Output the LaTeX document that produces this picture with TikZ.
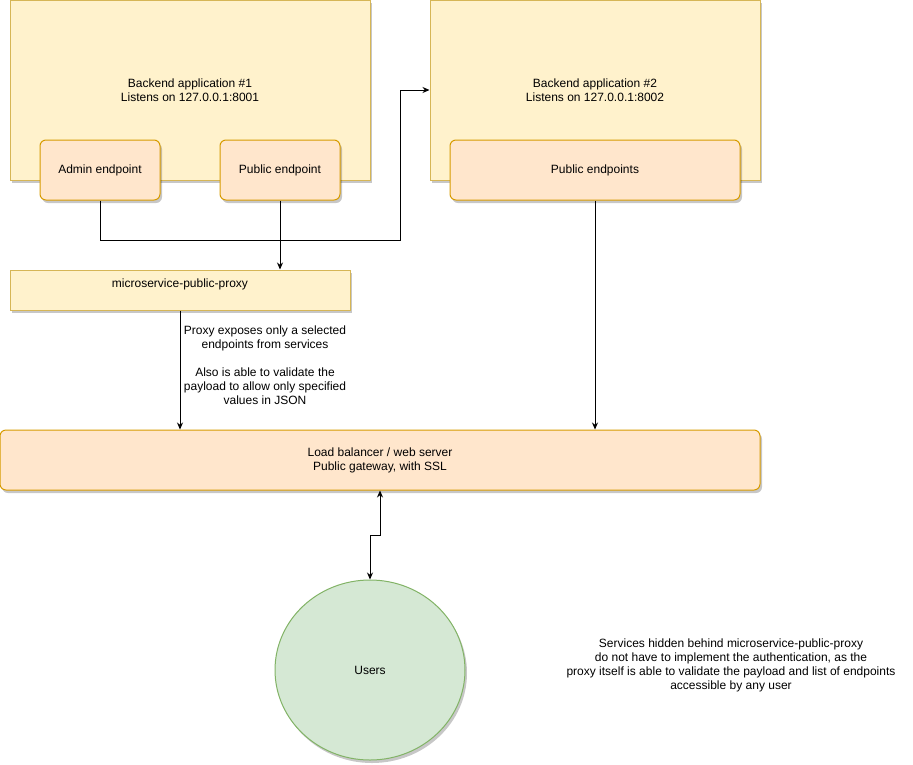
\documentclass[tikz,border=0pt]{standalone}
\usepackage{fontspec}
\setmainfont{Liberation Sans}
\usetikzlibrary{arrows.meta,shadows,shapes.geometric}
\definecolor{appfill}{HTML}{FFF2CC}
\definecolor{appdraw}{HTML}{D6B656}
\definecolor{epfill}{HTML}{FFE6CC}
\definecolor{epdraw}{HTML}{D79B00}
\definecolor{userfill}{HTML}{D5E8D4}
\definecolor{userdraw}{HTML}{82B366}
\begin{document}
\begin{tikzpicture}[
        x = 1pt, y = -1pt,
        font = \fontsize{12}{14}\selectfont,
        shade/.style = {drop shadow={shadow xshift=2pt, shadow yshift=-3pt, fill=black, opacity=0.22}},
        app/.style = {draw=appdraw, fill=appfill, line width=1pt, shade, align=center},
        ep/.style = {draw=epdraw, fill=epfill, line width=1pt, rounded corners=6pt, shade, align=center},
        usr/.style = {ellipse, draw=userdraw, fill=userfill, line width=1pt, shade, inner sep=0pt},
        conn/.style = {line width=0.9pt, -{Stealth[length=7pt,width=6pt]}}
    ]
    \useasboundingbox (0,0) rectangle (913,764);
    %--- Draw Applications ---%
        \node (app1) [app, minimum width=360pt, minimum height=180pt] at (190,90)
            {Backend application \#1\\Listens on 127.0.0.1:8001};
        \node (app2) [app, minimum width=330pt, minimum height=180pt] at (595,90)
            {Backend application \#2\\Listens on 127.0.0.1:8002};
        %--- Draw Endpoints ---%
        \node (admin) [ep, minimum width=120pt, minimum height=60pt] at (100,170) {Admin endpoint};
        \node (pub1) [ep, minimum width=120pt, minimum height=60pt] at (280,170) {Public endpoint};
        \node (pub2) [ep, minimum width=290pt, minimum height=60pt] at (595,170) {Public endpoints};
        %--- Draw Proxy and Gateway ---%
        \node (proxy) [app, minimum width=340pt, minimum height=40pt, text height=9pt, text depth=15pt] at (180,290)
            {microservice-public-proxy};
        \node (lb) [ep, minimum width=760pt, minimum height=60pt] at (380,460)
            {Load balancer / web server\\Public gateway, with SSL};
        \node (users) [usr, minimum width=190pt, minimum height=180pt] at (370,670) {Users};
        %--- Draw Notes ---%
        \node (note1) [align=center] at (265,365)
            {Proxy exposes only a selected\\endpoints from services\\[14pt]Also is able to validate the\\payload to allow only specified\\values in JSON};
        \node (note2) [align=center] at (731,665)
            {Services hidden behind microservice-public-proxy\\do not have to implement the authentication, as the\\proxy itself is able to validate the payload and list of endpoints\\accessible by any user};
        %--- Draw Connectors ---%
        \coordinate (bend) at (400,240);
        \draw[conn] (admin.south) |- (bend) |- (app2.west);
        \draw[conn] (pub1.south) -- (pub1.south |- proxy.north);
        \draw[conn] (proxy.south) -- (proxy.south |- lb.north);
        \draw[conn] (pub2.south) -- (pub2.south |- lb.north);
        \draw[conn, {Stealth[length=7pt,width=6pt]}-{Stealth[length=7pt,width=6pt]}] (lb.south) -- ++(0,45) -| (users.north);
    \end{tikzpicture}
\end{document}
